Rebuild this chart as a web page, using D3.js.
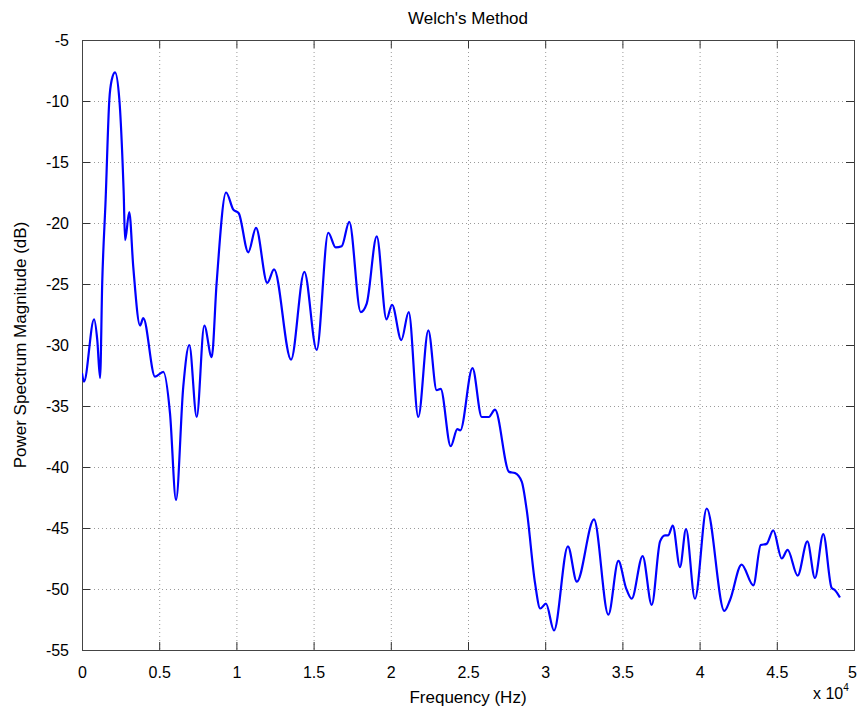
<!DOCTYPE html>
<html>
<head>
<meta charset="utf-8">
<script src="https://cdn.jsdelivr.net/npm/d3@7"></script>
<style>
  html, body { margin: 0; padding: 0; background: #fff; }
  svg { display: block; }
  text { font-family: "Liberation Sans", Arial, Helvetica, sans-serif; fill: #000; }
</style>
</head>
<body>
<svg id="chart" width="857" height="711"></svg>
<script>
// Welch PSD estimate: frequency (Hz) and magnitude (dB)
const freqHz = [
  0, 130, 780, 990, 1170, 1310, 1530, 1770, 1920, 2140, 2420, 2630, 2700, 2790,
  3060, 3320, 3760, 3970, 4730, 5270, 5700, 6090, 6560, 6950, 7430, 7920, 8400,
  8720, 9330, 9800, 10150, 10770, 11270, 12000, 12440, 13540, 14400, 15200,
  15950, 16430, 16820, 17310, 18050, 18440, 19090, 19720, 20080, 20680, 21160,
  21780, 22430, 22970, 23230, 23880, 24310, 24500, 25290, 25890, 26350, 26750,
  27660, 28040, 28480, 28800, 29340, 29680, 30050, 30570, 31470, 32050, 33160,
  34090, 34740, 35230, 35600, 36310, 36900, 37440, 37760, 37970, 38260, 38730,
  39120, 39700, 40460, 41600, 41970, 42720, 43480, 43960, 44340, 44770, 45320,
  45700, 46350, 46980, 47470, 48010, 48550, 48770, 49090
];
const powerDb = [
  -32.3, -33.0, -27.9, -29.6, -32.7, -24.9, -18.1, -9.9, -8.3, -7.65, -9.9, -15.1, -17.5, -21.4,
  -19.1, -23.6, -28.4, -27.8, -32.6, -32.2, -35.6, -42.7, -33.4, -30.0, -35.9, -28.4, -31.0,
  -24.9, -17.5, -18.9, -19.2, -22.4, -20.4, -24.9, -23.8, -31.2, -24.0, -30.4,
  -20.8, -22.0, -21.9, -19.9, -27.3, -26.6, -21.1, -27.9, -26.7, -29.6, -27.3,
  -35.9, -28.8, -33.7, -33.6, -38.3, -36.9, -37.0, -31.9, -35.9, -35.9, -35.3,
  -40.4, -40.5, -41.2, -43.5, -49.5, -51.6, -51.2, -53.4, -46.5, -49.4, -44.3,
  -52.1, -47.7, -49.9, -50.8, -47.3, -51.3, -46.1, -45.6, -45.6, -44.8, -48.2,
  -45.1, -50.8, -43.4, -51.8, -50.9, -48.0, -49.7, -46.4, -46.3, -45.2, -47.5,
  -46.8, -48.9, -46.1, -49.1, -45.5, -49.9, -50.1, -50.7
];

const xTicks = [0, 5000, 10000, 15000, 20000, 25000, 30000, 35000, 40000, 45000, 50000];
const yTicks = [-55, -50, -45, -40, -35, -30, -25, -20, -15, -10, -5];

const titleText = "Welch's Method";
const xLabelText = "Frequency (Hz)";
const yLabelText = "Power Spectrum Magnitude (dB)";

const svg = d3.select("#chart");
const margin = { left: 82, top: 40, right: 857 - 854, bottom: 711 - 650 };
const W = 857, H = 711;
const plotW = W - margin.left - margin.right;
const plotH = H - margin.top - margin.bottom;

const x = d3.scaleLinear().domain([0, 50000]).range([margin.left, margin.left + plotW]);
const y = d3.scaleLinear().domain([-55, -5]).range([margin.top + plotH, margin.top]);

const g = svg.append("g");

// dotted grid
g.append("g").selectAll("line").data(xTicks.slice(1, -1)).join("line")
  .attr("x1", d => x(d) + 0.5).attr("x2", d => x(d) + 0.5)
  .attr("y1", y(-5)).attr("y2", y(-55))
  .attr("stroke", "#9a9a9a").attr("stroke-width", 1).attr("stroke-dasharray", "1,3");
g.append("g").selectAll("line").data(yTicks.slice(1, -1)).join("line")
  .attr("y1", d => y(d) + 0.5).attr("y2", d => y(d) + 0.5)
  .attr("x1", x(0)).attr("x2", x(50000))
  .attr("stroke", "#9a9a9a").attr("stroke-width", 1).attr("stroke-dasharray", "1,3");

// axes with inward ticks on all sides
const tickLen = 8;
const fmtX = d => String(+(d / 10000).toFixed(1));
const fmtY = d => String(d);
const xAxisB = d3.axisBottom(x).tickValues(xTicks).tickSizeInner(-tickLen).tickSizeOuter(0)
  .tickPadding(tickLen + 9).tickFormat(fmtX);
const xAxisT = d3.axisTop(x).tickValues(xTicks).tickSizeInner(-tickLen).tickSizeOuter(0).tickFormat("");
const yAxisL = d3.axisLeft(y).tickValues(yTicks).tickSizeInner(-tickLen).tickSizeOuter(0)
  .tickPadding(tickLen + 5).tickFormat(fmtY);
const yAxisR = d3.axisRight(y).tickValues(yTicks).tickSizeInner(-tickLen).tickSizeOuter(0).tickFormat("");

function styleAxis(sel) {
  sel.select(".domain").remove();
  sel.selectAll(".tick line").attr("stroke", "#333");
  sel.selectAll(".tick text").attr("font-size", 16)
    .attr("font-family", "'Liberation Sans', Arial, sans-serif").attr("fill", "#000");
}
const xb = svg.append("g").attr("transform", `translate(0,${y(-55)})`).call(xAxisB).call(styleAxis);
// keep the last label inside the canvas
xb.selectAll(".tick text").filter(d => d === 50000).attr("dx", -2);
svg.append("g").attr("transform", `translate(0,${y(-5)})`).call(xAxisT).call(styleAxis);
svg.append("g").attr("transform", `translate(${x(0)},0)`).call(yAxisL).call(styleAxis);
svg.append("g").attr("transform", `translate(${x(50000)},0)`).call(yAxisR).call(styleAxis);

// axes box
svg.append("rect")
  .attr("x", x(0) + 0.5).attr("y", y(-5) + 0.5)
  .attr("width", x(50000) - x(0)).attr("height", y(-55) - y(-5))
  .attr("fill", "none").attr("stroke", "#444").attr("stroke-width", 1);

// spectrum line
svg.append("clipPath").attr("id", "clip").append("rect")
  .attr("x", x(0)).attr("y", y(-5)).attr("width", x(50000) - x(0)).attr("height", y(-55) - y(-5));

const pts = freqHz.map((f, i) => [f, powerDb[i]]);
const line = d3.line().x(d => x(d[0])).y(d => y(d[1])).curve(d3.curveMonotoneX);
svg.append("path").datum(pts)
  .attr("clip-path", "url(#clip)")
  .attr("d", line)
  .attr("fill", "none").attr("stroke", "#0000ff").attr("stroke-width", 2.2)
  .attr("stroke-linejoin", "round");

// labels
svg.append("text").attr("x", (x(0) + x(50000)) / 2).attr("y", 24)
  .attr("text-anchor", "middle").attr("font-size", 17).text(titleText);
svg.append("text").attr("x", (x(0) + x(50000)) / 2).attr("y", 703)
  .attr("text-anchor", "middle").attr("font-size", 17).text(xLabelText);
svg.append("text")
  .attr("transform", `translate(26,${(y(-5) + y(-55)) / 2}) rotate(-90)`)
  .attr("text-anchor", "middle").attr("font-size", 17).text(yLabelText);

// exponent label
const expo = svg.append("text").attr("x", 813).attr("y", 699).attr("font-size", 16);
expo.append("tspan").text("x 10");
expo.append("tspan").attr("dy", -8).attr("font-size", 10).text("4");
</script>
</body>
</html>
